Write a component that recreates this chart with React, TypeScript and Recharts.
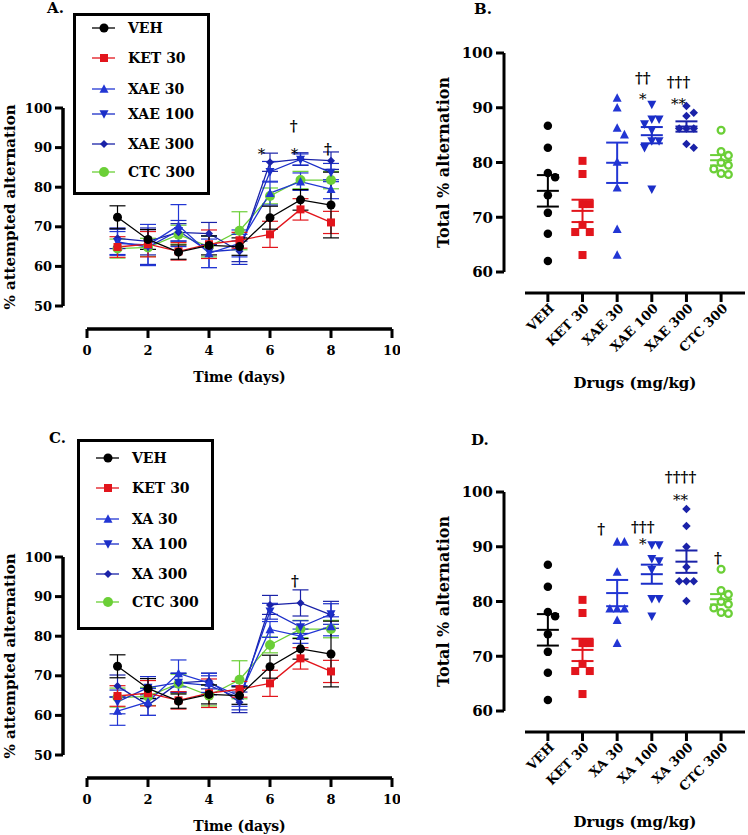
import React from 'react';
import {
  LineChart, Line, XAxis, YAxis, ErrorBar, Legend, ReferenceDot,
  ComposedChart, Scatter,
} from 'recharts';

const FONT = '"DejaVu Serif", "Liberation Serif", serif';
const BLACK = '#000000';
const RED = '#e2151c';
const BLUE_UP = '#2236d4';
const BLUE_DOWN = '#1b2ec8';
const BLUE_DIA = '#1a22a8';
const GREEN = '#6bcf37';

// ── time course data (panels A, C) ───────────────────────────────────────────

const DAYS = [1, 2, 3, 4, 5, 6, 7, 8];
const DAY_TICKS = [0, 2, 4, 6, 8, 10];
const PCT_TICKS = [50, 60, 70, 80, 90, 100];

const VEH_T = [72.4, 66.8, 63.6, 65.3, 65.0, 72.3, 76.8, 75.5];
const VEH_T_SEM = [2.9, 2.5, 1.8, 2.4, 2.2, 2.9, 2.6, 8.3];
const KET_T = [64.9, 65.6, 63.8, 65.6, 66.6, 68.1, 74.4, 71.1];
const KET_T_SEM = [2.6, 3.2, 2.2, 3.6, 2.0, 3.3, 2.7, 2.8];
const CTC_T = [64.5, 64.8, 68.0, 65.0, 69.0, 77.8, 81.8, 81.8];
const CTC_T_SEM = [2.4, 2.3, 2.4, 2.6, 4.8, 2.0, 2.2, 2.2];

const XAE30_T = [65.8, 65.4, 70.3, 63.3, 65.8, 78.5, 81.4, 79.5];
const XAE30_T_SEM = [3.0, 5.2, 5.3, 3.6, 3.4, 3.0, 2.2, 2.4];
const XAE100_T = [66.2, 64.9, 69.0, 63.7, 64.3, 83.9, 87.0, 83.7];
const XAE100_T_SEM = [3.2, 4.4, 2.6, 4.0, 3.8, 2.6, 1.4, 2.3];
const XAE300_T = [67.1, 66.3, 68.6, 68.3, 63.8, 86.3, 87.1, 86.7];
const XAE300_T_SEM = [2.6, 3.4, 2.2, 2.8, 2.6, 2.3, 1.6, 2.2];

const XA30_T = [61.1, 63.4, 70.6, 68.2, 64.9, 81.7, 80.0, 82.5];
const XA30_T_SEM = [3.6, 3.4, 3.4, 2.4, 2.6, 2.0, 1.8, 2.4];
const XA100_T = [63.4, 67.0, 68.3, 67.6, 64.4, 86.3, 82.3, 85.6];
const XA100_T_SEM = [3.0, 2.8, 2.4, 2.4, 3.0, 2.0, 1.6, 2.6];
const XA300_T = [67.4, 62.6, 68.2, 68.7, 63.3, 87.9, 88.4, 85.4];
const XA300_T_SEM = [2.8, 2.6, 2.4, 2.0, 2.6, 2.4, 3.3, 3.4];

// significance marks: [day, value, text]
const NOTES_A: [number, number, string][] = [
  [5.72, 89.2, '*'], [6.8, 89.2, '*'], [6.78, 95.3, '†'], [7.9, 89.4, '†'],
];
const NOTES_C: [number, number, string][] = [[6.82, 93.8, '†']];

// ── total alternation data (panels B, D) ─────────────────────────────────────

const GROUPS_B = ['VEH', 'KET 30', 'XAE 30', 'XAE 100', 'XAE 300', 'CTC 300'];
const GROUPS_D = ['VEH', 'KET 30', 'XA 30', 'XA 100', 'XA 300', 'CTC 300'];
const TOTAL_TICKS = [60, 70, 80, 90, 100];

const VEH_TOT = [86.7, 82.7, 78.1, 77.3, 74.0, 70.8, 67.0, 62.0];
const KET_TOT = [80.3, 77.9, 72.4, 72.4, 68.6, 67.3, 67.3, 63.1];
const CTC_TOT = [85.9, 82.0, 81.3, 80.0, 79.5, 78.8, 78.0, 77.8];
const XAE30_TOT = [91.8, 90.0, 86.3, 85.1, 80.1, 75.4, 67.8, 63.1];
const XAE100_TOT = [90.6, 87.9, 87.9, 87.0, 85.9, 83.9, 83.9, 82.7, 75.1];
const XAE300_TOT = [90.3, 89.1, 88.5, 86.2, 86.2, 86.2, 83.4, 82.7];
const XA30_TOT = [90.9, 90.9, 85.4, 78.7, 78.7, 78.7, 76.6, 72.4];
const XA100_TOT = [90.3, 90.3, 87.8, 87.4, 85.8, 80.5, 80.5, 77.3];
const XA300_TOT = [96.9, 93.8, 90.0, 86.3, 83.7, 83.7, 83.7, 80.1];

const NOTES_B: [number, number, string][] = [
  [2.74, 95.4, '††'], [2.74, 92.3, '*'], [3.77, 94.7, '†††'], [3.77, 91.3, '**'],
];
const NOTES_D: [number, number, string][] = [
  [1.54, 93.2, '†'], [2.74, 93.6, '†††'], [2.74, 91.2, '*'],
  [3.83, 102.6, '††††'], [3.83, 99.1, '**'], [4.91, 87.9, '†'],
];

// ── markers ──────────────────────────────────────────────────────────────────

type Shape = 'circle' | 'ring' | 'square' | 'up' | 'down' | 'diamond';

function Marker({ shape, cx, cy, size, color }: { shape: Shape; cx: number; cy: number; size: number; color: string }) {
  const h = size / 2;
  if (shape === 'circle') return <circle cx={cx} cy={cy} r={h} fill={color} />;
  if (shape === 'ring') return <circle cx={cx} cy={cy} r={h - 1.1} fill="#fff" stroke={color} strokeWidth={2.3} />;
  if (shape === 'square') return <rect x={cx - h} y={cy - h} width={size} height={size} fill={color} />;
  if (shape === 'diamond') {
    return <path d={`M${cx},${cy - h}L${cx + h},${cy}L${cx},${cy + h}L${cx - h},${cy}Z`} fill={color} />;
  }
  const d = shape === 'up' ? 1 : -1;
  return (
    <path
      d={`M${cx},${cy - d * h * 1.05}L${cx + h},${cy + d * h * 0.85}L${cx - h},${cy + d * h * 0.85}Z`}
      fill={color}
    />
  );
}

function Note({ cx, cy, text, size }: { cx: number; cy: number; text: string; size: number }) {
  const dagger = text.includes('†');
  const dy = dagger ? size * 0.3 : size * 0.56;
  return (
    <text x={cx} y={cy + dy} textAnchor="middle" fontFamily={FONT} fontSize={size}
      fontWeight={dagger ? 'bold' : 'normal'} fill="#000">
      {text}
    </text>
  );
}

const tickFont = (size: number) => ({ fontFamily: FONT, fontWeight: 'bold', fontSize: size, fill: '#000' });

function YTitle({ viewBox, text, size, back }: any) {
  const cx = viewBox.x + viewBox.width - back;
  const cy = viewBox.y + viewBox.height / 2;
  return (
    <text x={cx} y={cy} transform={`rotate(-90 ${cx} ${cy})`} textAnchor="middle" dominantBaseline="central"
      fontFamily={FONT} fontWeight="bold" fontSize={size} fill="#000">
      {text}
    </text>
  );
}

function XTitle({ viewBox, text, size, down }: any) {
  return (
    <text x={viewBox.x + viewBox.width / 2} y={viewBox.y + down} textAnchor="middle"
      fontFamily={FONT} fontWeight="bold" fontSize={size} fill="#000">
      {text}
    </text>
  );
}

// ── time course panel ────────────────────────────────────────────────────────

interface TimeSeries {
  key: string; name: string; color: string; shape: Shape; size: number;
  mean: number[]; sem: number[];
}

const LEGEND_ROWS = [15, 45, 76, 101, 131, 159];

function LegendBox({ series, height, shift }: { series: TimeSeries[]; height: number; shift: number }) {
  return (
    <div style={{
      position: 'relative', width: 137, height, border: '3px solid #000',
      boxSizing: 'border-box', background: '#fff',
    }}>
      {series.map((s, i) => (
        <div key={s.key} style={{
          position: 'absolute', left: 16, top: LEGEND_ROWS[i] + shift - 3 - 9, height: 18,
          display: 'flex', alignItems: 'center', whiteSpace: 'nowrap',
        }}>
          <svg width={23} height={18}>
            <line x1={0} x2={23} y1={9} y2={9} stroke={s.color} strokeWidth={1.3} />
            <Marker shape={s.shape} cx={12} cy={9} size={s.size} color={s.color} />
          </svg>
          <span style={{ marginLeft: 13, font: `bold 14px ${FONT}`, lineHeight: '18px', color: '#000' }}>{s.name}</span>
        </div>
      ))}
    </div>
  );
}

function TimePanel({ pageTop, plotTop, height, series, notes, legendLeft, legendTop, legendH, shift }: {
  pageTop: number; plotTop: number; height: number; series: TimeSeries[]; notes: [number, number, string][];
  legendLeft: number; legendTop: number; legendH: number; shift: number;
}) {
  const rows = DAYS.map((d, i) => {
    const r: Record<string, number> = { day: d };
    series.forEach(s => { r[s.key] = s.mean[i]; r[s.key + 'E'] = s.sem[i]; });
    return r;
  });
  const top = plotTop - pageTop;
  const bottom = height - (top + 198) - 23 - 55;

  return (
    <div style={{ position: 'absolute', left: 0, top: pageTop }}>
      <LineChart width={400} height={height} data={rows} margin={{ top, right: 8, bottom, left: 13 }}>
        <XAxis xAxisId="gap" dataKey="day" type="number" domain={[0, 10]} height={23}
          tick={false} axisLine={false} tickLine={false} />
        <XAxis xAxisId="val" dataKey="day" type="number" domain={[0, 10]} ticks={DAY_TICKS} height={55}
          tick={tickFont(13)} tickSize={9} tickMargin={8}
          axisLine={{ stroke: '#000', strokeWidth: 3.5 }} tickLine={{ stroke: '#000', strokeWidth: 3 }}
          label={(p: any) => <XTitle viewBox={p.viewBox} text="Time (days)" size={14} down={53} />} />
        <YAxis yAxisId="gap" type="number" domain={[50, 100]} width={24}
          tick={false} axisLine={false} tickLine={false} />
        <YAxis yAxisId="val" type="number" domain={[50, 100]} ticks={PCT_TICKS} width={50}
          tick={tickFont(13)} tickSize={8} tickMargin={3}
          axisLine={{ stroke: '#000', strokeWidth: 3.5 }} tickLine={{ stroke: '#000', strokeWidth: 3 }}
          label={(p: any) => <YTitle viewBox={p.viewBox} text="% attempted alternation" size={15} back={53} />} />
        {[...series].reverse().map(s => (
          <Line key={s.key} xAxisId="val" yAxisId="val" dataKey={s.key} stroke={s.color} strokeWidth={1.3}
            isAnimationActive={false} activeDot={false}
            dot={(p: any) => <Marker key={`${s.key}-${p.index}`} shape={s.shape} cx={p.cx} cy={p.cy} size={s.size} color={s.color} />}>
            <ErrorBar dataKey={s.key + 'E'} direction="y" width={8} strokeWidth={1.2} stroke={s.color} />
          </Line>
        ))}
        {notes.map(([x, y, t], i) => (
          <ReferenceDot key={i} xAxisId="val" yAxisId="val" x={x} y={y} r={0} ifOverflow="visible"
            shape={(p: any) => <Note cx={p.cx} cy={p.cy} text={t} size={15} />} />
        ))}
        <Legend layout="vertical" align="center" verticalAlign="middle"
          wrapperStyle={{ left: legendLeft, top: legendTop, width: 137, height: legendH }}
          content={() => <LegendBox series={series} height={legendH} shift={shift} />} />
      </LineChart>
    </div>
  );
}

// ── scatter panel ────────────────────────────────────────────────────────────

interface Group { name: string; color: string; shape: Shape; size: number; values: number[] }

const SLOT = 0.21;        // horizontal step between neighbouring dots (category units)
const PX_PER_UNIT = 5.475;

function swarm(values: number[], center: number) {
  const placed: { y: number; slot: number }[] = [];
  const order = [0, 1, -1, 2, -2, 3, -3];
  return [...values].sort((a, b) => b - a).map(v => {
    const slot = order.find(s => !placed.some(p => p.slot === s && Math.abs(p.y - v) * PX_PER_UNIT < 8)) ?? 0;
    placed.push({ y: v, slot });
    return { x: center + slot * SLOT, y: v };
  });
}

function stats(values: number[]) {
  const n = values.length;
  const mean = values.reduce((a, b) => a + b, 0) / n;
  const sd = Math.sqrt(values.reduce((a, b) => a + (b - mean) ** 2, 0) / (n - 1));
  return { mean, sem: sd / Math.sqrt(n) };
}

function DrugTick({ x, y, payload, names }: any) {
  const ax = x + 4;
  const ay = y + 4;
  return (
    <text x={ax} y={ay} transform={`rotate(-45 ${ax} ${ay})`} textAnchor="end" dominantBaseline="central"
      fontFamily={FONT} fontWeight="bold" fontSize={13} fill="#000">
      {names[payload.value]}
    </text>
  );
}

function TotalPanel({ pageTop, plotTop, height, groups, notes }: {
  pageTop: number; plotTop: number; height: number; groups: Group[]; notes: [number, number, string][];
}) {
  const names = groups.map(g => g.name);
  const top = plotTop - pageTop;
  const bottom = height - (top + 219) - 21 - 95;

  return (
    <div style={{ position: 'absolute', left: 380, top: pageTop }}>
      <ComposedChart width={368} height={height} margin={{ top, right: 3, bottom, left: 24 }}>
        <XAxis xAxisId="gap" dataKey="x" type="number" domain={[-0.66, 5.69]} height={21}
          tick={false} axisLine={false} tickLine={false} />
        <XAxis xAxisId="val" dataKey="x" type="number" domain={[-0.66, 5.69]} ticks={[0, 1, 2, 3, 4, 5]}
          height={95} allowDataOverflow interval={0} tickSize={9} tickMargin={0}
          tick={(p: any) => <DrugTick {...p} names={names} />}
          axisLine={{ stroke: '#000', strokeWidth: 3 }} tickLine={{ stroke: '#000', strokeWidth: 3 }}
          label={(p: any) => <XTitle viewBox={p.viewBox} text="Drugs (mg/kg)" size={15} down={95} />} />
        <YAxis yAxisId="gap" type="number" domain={[60, 100]} width={21}
          tick={false} axisLine={false} tickLine={false} />
        <YAxis yAxisId="val" dataKey="y" type="number" domain={[60, 100]} ticks={TOTAL_TICKS} width={100}
          allowDataOverflow tick={tickFont(15)} tickSize={8} tickMargin={3}
          axisLine={{ stroke: '#000', strokeWidth: 3 }} tickLine={{ stroke: '#000', strokeWidth: 3 }}
          label={(p: any) => <YTitle viewBox={p.viewBox} text="Total % alternation" size={16} back={61} />} />
        {groups.map((g, i) => (
          <Scatter key={`pts-${i}`} xAxisId="val" yAxisId="val" data={swarm(g.values, i)}
            isAnimationActive={false}
            shape={(p: any) => <Marker shape={g.shape} cx={p.cx} cy={p.cy} size={g.size} color={g.color} />} />
        ))}
        {groups.map((g, i) => {
          const s = stats(g.values);
          return (
            <Scatter key={`mean-${i}`} xAxisId="val" yAxisId="val" data={[{ x: i, y: s.mean, e: s.sem }]}
              isAnimationActive={false}
              shape={(p: any) => <line x1={p.cx - 11} x2={p.cx + 11} y1={p.cy} y2={p.cy} stroke={g.color} strokeWidth={2} />}>
              <ErrorBar dataKey="e" direction="y" width={11} strokeWidth={2} stroke={g.color} />
            </Scatter>
          );
        })}
        {notes.map(([x, y, t], i) => (
          <ReferenceDot key={i} xAxisId="val" yAxisId="val" x={x} y={y} r={0} ifOverflow="visible"
            shape={(p: any) => <Note cx={p.cx} cy={p.cy} text={t} size={15} />} />
        ))}
      </ComposedChart>
    </div>
  );
}

// ── page ─────────────────────────────────────────────────────────────────────

const SERIES_A: TimeSeries[] = [
  { key: 'veh', name: 'VEH', color: BLACK, shape: 'circle', size: 9, mean: VEH_T, sem: VEH_T_SEM },
  { key: 'ket', name: 'KET 30', color: RED, shape: 'square', size: 8, mean: KET_T, sem: KET_T_SEM },
  { key: 'x30', name: 'XAE 30', color: BLUE_UP, shape: 'up', size: 9, mean: XAE30_T, sem: XAE30_T_SEM },
  { key: 'x100', name: 'XAE 100', color: BLUE_DOWN, shape: 'down', size: 9, mean: XAE100_T, sem: XAE100_T_SEM },
  { key: 'x300', name: 'XAE 300', color: BLUE_DIA, shape: 'diamond', size: 8, mean: XAE300_T, sem: XAE300_T_SEM },
  { key: 'ctc', name: 'CTC 300', color: GREEN, shape: 'circle', size: 10, mean: CTC_T, sem: CTC_T_SEM },
];

const SERIES_C: TimeSeries[] = [
  SERIES_A[0], SERIES_A[1],
  { key: 'x30', name: 'XA 30', color: BLUE_UP, shape: 'up', size: 9, mean: XA30_T, sem: XA30_T_SEM },
  { key: 'x100', name: 'XA 100', color: BLUE_DOWN, shape: 'down', size: 9, mean: XA100_T, sem: XA100_T_SEM },
  { key: 'x300', name: 'XA 300', color: BLUE_DIA, shape: 'diamond', size: 8, mean: XA300_T, sem: XA300_T_SEM },
  SERIES_A[5],
];

const GROUPS_B_DEF: Group[] = [
  { name: GROUPS_B[0], color: BLACK, shape: 'circle', size: 8.5, values: VEH_TOT },
  { name: GROUPS_B[1], color: RED, shape: 'square', size: 8, values: KET_TOT },
  { name: GROUPS_B[2], color: BLUE_UP, shape: 'up', size: 9, values: XAE30_TOT },
  { name: GROUPS_B[3], color: BLUE_DOWN, shape: 'down', size: 9, values: XAE100_TOT },
  { name: GROUPS_B[4], color: BLUE_DIA, shape: 'diamond', size: 8.5, values: XAE300_TOT },
  { name: GROUPS_B[5], color: GREEN, shape: 'ring', size: 9, values: CTC_TOT },
];

const GROUPS_D_DEF: Group[] = [
  { ...GROUPS_B_DEF[0], name: GROUPS_D[0] },
  { ...GROUPS_B_DEF[1], name: GROUPS_D[1] },
  { ...GROUPS_B_DEF[2], name: GROUPS_D[2], values: XA30_TOT },
  { ...GROUPS_B_DEF[3], name: GROUPS_D[3], values: XA100_TOT },
  { ...GROUPS_B_DEF[4], name: GROUPS_D[4], values: XA300_TOT },
  { ...GROUPS_B_DEF[5], name: GROUPS_D[5] },
];

const letter = (text: string, left: number, top: number) => (
  <div style={{ position: 'absolute', left, top, font: `bold 15px ${FONT}`, lineHeight: '15px', color: '#000' }}>
    {text}
  </div>
);

export default function App() {
  return (
    <div style={{
      position: 'absolute', left: 0, top: 0, width: 748, height: 835,
      overflow: 'hidden', background: '#fff',
    }}>
      <TimePanel pageTop={0} plotTop={108} height={420} series={SERIES_A} notes={NOTES_A}
        legendLeft={73} legendTop={13} legendH={182} shift={0} />
      <TimePanel pageTop={420} plotTop={557} height={415} series={SERIES_C} notes={NOTES_C}
        legendLeft={77} legendTop={19} legendH={191} shift={4} />
      <TotalPanel pageTop={0} plotTop={53} height={420} groups={GROUPS_B_DEF} notes={NOTES_B} />
      <TotalPanel pageTop={420} plotTop={492} height={415} groups={GROUPS_D_DEF} notes={NOTES_D} />
      {letter('A.', 47, 1)}
      {letter('B.', 474, 2)}
      {letter('C.', 49, 431)}
      {letter('D.', 471, 433)}
    </div>
  );
}
